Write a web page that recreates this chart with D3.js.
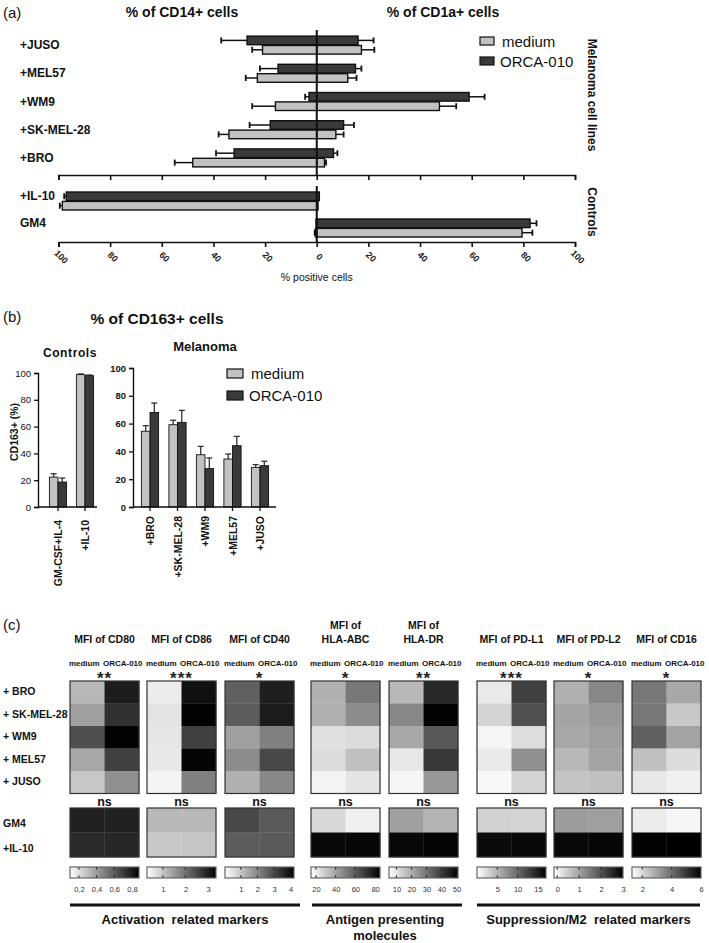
<!DOCTYPE html>
<html><head><meta charset="utf-8">
<script src="https://cdn.jsdelivr.net/npm/d3@7"></script>
<style>body{margin:0;background:#fff} svg{display:block;font-family:"Liberation Sans",Arial,sans-serif}</style>
</head><body><svg id="c" width="709" height="943"></svg>
<script>
// ---------------- DATA ----------------
// Panel (a)
const melanomaLinesA = ["+JUSO","+MEL57","+WM9","+SK-MEL-28","+BRO"];
const controlsA = ["+IL-10","GM4"];
const cd14Medium   = [21, 23, 16, 34, 48];
const cd14MediumSD = [4, 4.5, 9, 4, 7];
const cd14Orca     = [27, 15, 3, 18, 32];
const cd14OrcaSD   = [10, 7, 1.5, 8, 7];
const cd1aMedium   = [17.3, 12, 47.5, 7.4, 3];
const cd1aMediumSD = [5, 3.4, 6.5, 3, 0.6];
const cd1aOrca     = [16, 15, 59, 10.4, 6.5];
const cd1aOrcaSD   = [6, 2.3, 6, 4, 1.5];
const cd14CtrlMedium   = [98.5, 0.5];
const cd14CtrlMediumSD = [1, 0.3];
const cd14CtrlOrca     = [97, 0.3];
const cd14CtrlOrcaSD   = [0.8, 0];
const cd1aCtrlMedium   = [0.5, 79.5];
const cd1aCtrlMediumSD = [0, 4];
const cd1aCtrlOrca     = [1, 82.6];
const cd1aCtrlOrcaSD   = [0, 2.5];
const axisTicksA = [-100,-80,-60,-40,-20,0,20,40,60,80,100];

// Panel (b)
const controlsB = ["GM-CSF+IL-4","+IL-10"];
const cd163CtrlMedium   = [22.3, 98.8];
const cd163CtrlMediumSD = [2.5, 0.5];
const cd163CtrlOrca     = [18.6, 98];
const cd163CtrlOrcaSD   = [3, 0.5];
const melanomaLinesB = ["+BRO","+SK-MEL-28","+WM9","+MEL57","+JUSO"];
const cd163Medium   = [54.5, 59.2, 37.6, 34.5, 28.5];
const cd163MediumSD = [4, 3.2, 6, 3.6, 2];
const cd163Orca     = [68, 60.9, 27.6, 44.1, 29.7];
const cd163OrcaSD   = [6.8, 8.6, 7.7, 6.7, 3.2];
const yTicksB = [0,20,40,60,80,100];

// Panel (c) rows: BRO, SK-MEL-28, WM9, MEL57, JUSO, GM4, +IL-10 ; cols: medium, ORCA-010
const heatRows = ["+ BRO","+ SK-MEL-28","+ WM9","+ MEL57","+ JUSO"];
const heatCtrlRows = ["GM4","+IL-10"];
const conditions = ["medium","ORCA-010"];
const cd80   = [[0.32,0.79],[0.39,0.73],[0.64,0.87],[0.37,0.68],[0.27,0.44],[0.78,0.78],[0.75,0.76]];
const cd86   = [[0.53,3.16],[0.62,3.33],[0.60,2.58],[0.57,3.29],[0.43,1.82],[1.15,1.15],[0.96,0.98]];
const cd40   = [[2.64,3.71],[2.70,3.74],[1.60,2.12],[1.92,3.03],[1.34,1.99],[3.03,2.74],[2.70,2.74]];
const hlaAbc = [[36.7,52],[36.7,46.6],[23.5,24.6],[24.6,32.3],[18,22.4],[25.7,19.1],[82.8,83.4]];
const hlaDr  = [[17.8,43.8],[26.5,50.6],[20.7,35.1],[9.1,40.9],[6.6,23.6],[22.1,18.5],[49.6,50.3]];
const pdl1   = [[1.5,12.7],[2.9,11.7],[0.7,2.3],[1.5,7.4],[0.5,2.9],[3.1,2.9],[16.3,16.5]];
const pdl2   = [[0.83,1.32],[0.97,1.12],[0.92,1.03],[0.73,0.97],[0.58,0.63],[1.07,1.03],[2.90,2.93]];
const cd16   = [[3.79,2.90],[3.79,2.31],[4.23,2.98],[2.46,1.94],[1.72,1.58],[1.65,1.46],[5.96,6.0]];
const markerTitles = [["MFI of CD80"],["MFI of CD86"],["MFI of CD40"],["MFI of","HLA-ABC"],["MFI of","HLA-DR"],["MFI of PD-L1"],["MFI of PD-L2"],["MFI of CD16"]];
const markerStars = ["**","***","*","*","**","***","*","*"];
const colorDomains = [[0.1,0.88],[0.3,3.35],[0.05,4.2],[15,85],[5,51],[0,17],[-0.15,3.0],[1.3,6]];
const colorTicks = [[0.2,0.4,0.6,0.8],[1,2,3],[1,2,3,4],[20,40,60,80],[10,20,30,40,50],[5,10,15],[0,1,2,3],[2,4,6]];
const groupNames = [["Activation  related markers"],["Antigen presenting","molecules"],["Suppression/M2  related markers"]];

// ---------------- DRAW ----------------
const svg = d3.select("#c");
svg.append("rect").attr("width",709).attr("height",943).attr("fill","#fff");
const LIGHT = "#c2c2c2", DARK = "#3a3a3a";

function txt(g, x, y, s, o = {}) {
  const t = g.append("text").attr("x", x).attr("y", y).text(s)
    .attr("font-size", o.size || 12).attr("font-weight", o.weight || "normal")
    .attr("text-anchor", o.anchor || "start").attr("fill", o.fill || "#111");
  if (o.transform) t.attr("transform", o.transform);
  if (o.ls) t.attr("letter-spacing", o.ls);
  return t;
}

// ===== Panel (a) =====
const gA = svg.append("g");
txt(gA, 3, 18, "(a)", {size: 15});
txt(gA, 182, 17, "% of CD14+ cells", {size: 14, weight: "bold", anchor: "middle"});
txt(gA, 443, 17, "% of CD1a+ cells", {size: 14, weight: "bold", anchor: "middle"});

const xA = d3.scaleLinear().domain([-100, 100]).range([58.5, 575]);
const yMelA = d3.scaleBand().domain(melanomaLinesA).range([31, 172]);
const yCtlA = d3.scaleBand().domain(controlsA).range([187.5, 241.5]);

function hRecords(rows, yS, sets) {
  const recs = [];
  rows.forEach((r, i) => {
    sets.forEach(s => recs.push({row: r, c: yS(r) + yS.bandwidth() / 2, side: s.side, dark: s.dark, v: s.v[i], sd: s.sd[i]}));
  });
  return recs;
}
const recsA = hRecords(melanomaLinesA, yMelA, [
  {side: -1, dark: true, v: cd14Orca, sd: cd14OrcaSD},
  {side: -1, dark: false, v: cd14Medium, sd: cd14MediumSD},
  {side: 1, dark: true, v: cd1aOrca, sd: cd1aOrcaSD},
  {side: 1, dark: false, v: cd1aMedium, sd: cd1aMediumSD}
]).concat(hRecords(controlsA, yCtlA, [
  {side: -1, dark: true, v: cd14CtrlOrca, sd: cd14CtrlOrcaSD},
  {side: -1, dark: false, v: cd14CtrlMedium, sd: cd14CtrlMediumSD},
  {side: 1, dark: true, v: cd1aCtrlOrca, sd: cd1aCtrlOrcaSD},
  {side: 1, dark: false, v: cd1aCtrlMedium, sd: cd1aCtrlMediumSD}
]));
const BH = 8.6;
recsA.forEach(d => {
  const y0 = d.dark ? d.c - BH - 0.4 : d.c + 0.4;
  const xa = xA(0), xb = xA(d.side * d.v);
  if (d.sd > 0) {
    const xe = xA(d.side * (d.v + d.sd));
    gA.append("line").attr("x1", xb).attr("x2", xe).attr("y1", y0 + BH / 2).attr("y2", y0 + BH / 2)
      .attr("stroke", "#111").attr("stroke-width", 1.5);
    gA.append("line").attr("x1", xe).attr("x2", xe).attr("y1", y0 + BH / 2 - 3).attr("y2", y0 + BH / 2 + 3)
      .attr("stroke", "#111").attr("stroke-width", 1.8);
  }
  gA.append("rect").attr("x", Math.min(xa, xb)).attr("y", y0).attr("width", Math.abs(xb - xa)).attr("height", BH)
    .attr("fill", d.dark ? DARK : LIGHT).attr("stroke", "#111").attr("stroke-width", 1.4);
});
// row labels
melanomaLinesA.forEach(r => txt(gA, 20, yMelA(r) + yMelA.bandwidth() / 2 + 4, r, {size: 12, weight: "bold"}));
controlsA.forEach(r => txt(gA, 20, yCtlA(r) + yCtlA.bandwidth() / 2 - 1, r, {size: 12, weight: "bold"}));
// zero line
gA.append("line").attr("x1", xA(0)).attr("x2", xA(0)).attr("y1", 30).attr("y2", 175).attr("stroke", "#111").attr("stroke-width", 2);
gA.append("line").attr("x1", xA(0)).attr("x2", xA(0)).attr("y1", 186).attr("y2", 242).attr("stroke", "#111").attr("stroke-width", 2);
// axes
const axTop = gA.append("g").attr("transform", "translate(0,175)")
  .call(d3.axisBottom(xA).tickValues(axisTicksA).tickSize(5).tickFormat(""));
const axBot = gA.append("g").attr("transform", "translate(0,242)")
  .call(d3.axisBottom(xA).tickValues(axisTicksA).tickSize(5).tickFormat(d => Math.abs(d)));
[axTop, axBot].forEach(a => {
  a.select(".domain").attr("stroke", "#111").attr("stroke-width", 1.6);
  a.selectAll(".tick line").attr("stroke", "#111").attr("stroke-width", 1.6);
});
axBot.selectAll(".tick text").attr("y", 0).attr("dy", 0).attr("transform", "translate(0,17) rotate(45)")
  .attr("text-anchor", "middle").attr("font-size", 9).attr("font-weight", "bold").attr("fill", "#222")
  .attr("font-family", "Liberation Sans, Arial, sans-serif");
txt(gA, xA(0), 281, "% positive cells", {size: 10.5, anchor: "middle"});
txt(gA, 588, 95, "Melanoma cell lines", {size: 12, weight: "bold", anchor: "middle", transform: "rotate(90,588,95)"});
txt(gA, 588, 212, "Controls", {size: 12, weight: "bold", anchor: "middle", transform: "rotate(90,588,212)"});
// legend
gA.append("rect").attr("x", 480).attr("y", 37).attr("width", 14).attr("height", 8).attr("fill", LIGHT).attr("stroke", "#111").attr("stroke-width", 1.2);
gA.append("rect").attr("x", 480).attr("y", 57).attr("width", 14).attr("height", 8).attr("fill", DARK).attr("stroke", "#111").attr("stroke-width", 1.2);
txt(gA, 502, 47, "medium", {size: 15});
txt(gA, 500, 67, "ORCA-010", {size: 15});

// ===== Panel (b) =====
const gB = svg.append("g");
txt(gB, 3, 322, "(b)", {size: 15});
txt(gB, 157, 324, "% of CD163+ cells", {size: 15.5, weight: "bold", anchor: "middle"});
txt(gB, 70, 357, "Controls", {size: 12, weight: "bold", anchor: "middle", ls: 0.6});
txt(gB, 205, 351, "Melanoma", {size: 13, weight: "bold", anchor: "middle"});
txt(gB, 18, 432, "CD163+ (%)", {size: 10.5, weight: "bold", anchor: "middle", transform: "rotate(-90,18,432)"});

function vPanel(g, cats, xRange, axisX0, axisX1, yRange, med, medSD, orc, orcSD, bold, labelTop) {
  const x = d3.scaleBand().domain(cats).range(xRange);
  const y = d3.scaleLinear().domain([0, 100]).range(yRange);
  const bw = 8.6;
  cats.forEach((c, i) => {
    const cx = x(c) + x.bandwidth() / 2;
    [[med[i], medSD[i], cx - bw, LIGHT], [orc[i], orcSD[i], cx, DARK]].forEach(([v, sd, x0, col]) => {
      const xm = x0 + bw / 2;
      g.append("line").attr("x1", xm).attr("x2", xm).attr("y1", y(v)).attr("y2", y(v + sd)).attr("stroke", "#333").attr("stroke-width", 1.3);
      g.append("line").attr("x1", xm - 3).attr("x2", xm + 3).attr("y1", y(v + sd)).attr("y2", y(v + sd)).attr("stroke", "#333").attr("stroke-width", 1.3);
      g.append("rect").attr("x", x0).attr("y", y(v)).attr("width", bw).attr("height", y(0) - y(v))
        .attr("fill", col).attr("stroke", "#111").attr("stroke-width", 0.9);
    });
    txt(g, cx + 4, labelTop, c, {size: 10.5, weight: "bold", anchor: "end", transform: `rotate(-90,${cx + 4},${labelTop})`});
    g.append("line").attr("x1", cx).attr("x2", cx).attr("y1", y(0)).attr("y2", y(0) + 4).attr("stroke", "#111").attr("stroke-width", 1.3);
  });
  g.append("line").attr("x1", axisX0).attr("x2", axisX1).attr("y1", y(0)).attr("y2", y(0)).attr("stroke", "#111").attr("stroke-width", 1.4);
  const ay = g.append("g").attr("transform", `translate(${axisX0},0)`)
    .call(d3.axisLeft(y).tickValues(yTicksB).tickSize(4).tickPadding(3));
  ay.select(".domain").attr("stroke", "#111").attr("stroke-width", 1.4);
  ay.selectAll(".tick line").attr("stroke", "#111").attr("stroke-width", 1.3);
  ay.selectAll(".tick text").attr("font-size", 9.5).attr("font-weight", bold ? "bold" : "normal")
    .attr("fill", "#111").attr("font-family", "Liberation Sans, Arial, sans-serif");
}
vPanel(gB, controlsB, [44.5, 98.5], 38, 97, [507, 373], cd163CtrlMedium, cd163CtrlMediumSD, cd163CtrlOrca, cd163CtrlOrcaSD, false, 520);
vPanel(gB, melanomaLinesB, [136.25, 273.75], 133, 276, [507, 368], cd163Medium, cd163MediumSD, cd163Orca, cd163OrcaSD, true, 516);
gB.append("rect").attr("x", 227).attr("y", 369).attr("width", 16).attr("height", 9).attr("fill", LIGHT).attr("stroke", "#111").attr("stroke-width", 1.2);
gB.append("rect").attr("x", 227).attr("y", 391).attr("width", 16).attr("height", 9).attr("fill", DARK).attr("stroke", "#111").attr("stroke-width", 1.2);
txt(gB, 251, 379, "medium", {size: 15});
txt(gB, 249, 401, "ORCA-010", {size: 15});

// ===== Panel (c) =====
const gC = svg.append("g");
txt(gC, 3, 630, "(c)", {size: 15});
const mfi = [cd80, cd86, cd40, hlaAbc, hlaDr, pdl1, pdl2, cd16];
const lefts = [70, 147, 225, 311, 389, 477, 554, 632];
const HW = 69;
const defs = svg.append("defs");
const grad = defs.append("linearGradient").attr("id", "gw");
grad.append("stop").attr("offset", "0%").attr("stop-color", "#fff");
grad.append("stop").attr("offset", "100%").attr("stop-color", "#000");

const yMelC = d3.scaleBand().domain(heatRows).range([681, 793.5]);
const yCtlC = d3.scaleBand().domain(heatCtrlRows).range([808, 857]);
heatRows.forEach(r => txt(gC, 3, yMelC(r) + yMelC.bandwidth() / 2 + 3, r, {size: 10.5, weight: "bold"}));
heatCtrlRows.forEach(r => txt(gC, 3, yCtlC(r) + yCtlC.bandwidth() / 2 + 7, r, {size: 10.5, weight: "bold"}));

mfi.forEach((data, k) => {
  const L = lefts[k];
  const xb = d3.scaleBand().domain(conditions).range([L, L + HW]);
  const col = d3.scaleLinear().domain(colorDomains[k]).range(["#ffffff", "#000000"]).clamp(true);
  // titles
  const tl = markerTitles[k];
  if (tl.length === 1) txt(gC, L + HW / 2, 643, tl[0], {size: 10.5, weight: "bold", anchor: "middle"});
  else { txt(gC, L + HW / 2, 629, tl[0], {size: 10.5, weight: "bold", anchor: "middle"});
         txt(gC, L + HW / 2, 643, tl[1], {size: 10.5, weight: "bold", anchor: "middle"}); }
  txt(gC, xb("medium") + xb.bandwidth() / 2 - 3, 666, "medium", {size: 8, weight: "bold", anchor: "middle"});
  txt(gC, xb("ORCA-010") + xb.bandwidth() / 2 + 1, 666, "ORCA-010", {size: 8, weight: "bold", anchor: "middle"});
  txt(gC, L + HW / 2, 684, markerStars[k], {size: 17, weight: "bold", anchor: "middle", fill: "#222", ls: 1});
  // melanoma block
  heatRows.forEach((r, i) => conditions.forEach((c, j) => {
    gC.append("rect").attr("x", xb(c)).attr("y", yMelC(r)).attr("width", xb.bandwidth() + 0.3).attr("height", yMelC.bandwidth() + 0.3)
      .attr("fill", col(data[i][j]));
  }));
  gC.append("rect").attr("x", L).attr("y", 681).attr("width", HW).attr("height", 112.5).attr("fill", "none").attr("stroke", "#333").attr("stroke-width", 1.2);
  txt(gC, L + HW / 2, 806, "ns", {size: 12.5, weight: "bold", anchor: "middle"});
  heatCtrlRows.forEach((r, i) => conditions.forEach((c, j) => {
    gC.append("rect").attr("x", xb(c)).attr("y", yCtlC(r)).attr("width", xb.bandwidth() + 0.3).attr("height", yCtlC.bandwidth() + 0.3)
      .attr("fill", col(data[5 + i][j]));
  }));
  gC.append("rect").attr("x", L).attr("y", 808).attr("width", HW).attr("height", 49).attr("fill", "none").attr("stroke", "#333").attr("stroke-width", 1.2);
  // colorbar
  const cs = d3.scaleLinear().domain(colorDomains[k]).range([L, L + HW]);
  gC.append("rect").attr("x", L).attr("y", 867).attr("width", HW).attr("height", 11).attr("fill", "url(#gw)").attr("stroke", "#666").attr("stroke-width", 1.2);
  colorTicks[k].forEach(t => {
    const tx = Math.min(Math.max(cs(t), L + 1), L + HW - 1);
    gC.append("line").attr("x1", tx).attr("x2", tx).attr("y1", 867.5).attr("y2", 869.5).attr("stroke", "#222").attr("stroke-width", 1.2);
    gC.append("line").attr("x1", tx).attr("x2", tx).attr("y1", 875.5).attr("y2", 877.5).attr("stroke", "#222").attr("stroke-width", 1.2);
  });
  const ax = gC.append("g").attr("transform", "translate(0,878)")
    .call(d3.axisBottom(cs).tickValues(colorTicks[k]).tickSize(0).tickPadding(9)
      .tickFormat(d => String(d).replace(".", ",")));
  ax.select(".domain").remove();
  ax.selectAll(".tick text").attr("font-size", 7.5).attr("fill", "#333").attr("font-family", "Liberation Sans, Arial, sans-serif");
});

// group lines and labels
const groupSpans = [[70, 300], [312, 462], [477, 700]];
groupSpans.forEach((s, i) => {
  gC.append("line").attr("x1", s[0]).attr("x2", s[1]).attr("y1", 905).attr("y2", 905).attr("stroke", "#111").attr("stroke-width", 3);
  const cx = (s[0] + s[1]) / 2;
  const lines = groupNames[i];
  lines.forEach((l, j) => {
    txt(gC, i === 1 ? cx - 2 : cx, 924 + j * 16, l, {size: 13, weight: "bold", anchor: "middle"}).style("white-space", "pre");
  });
});
</script></body></html>
